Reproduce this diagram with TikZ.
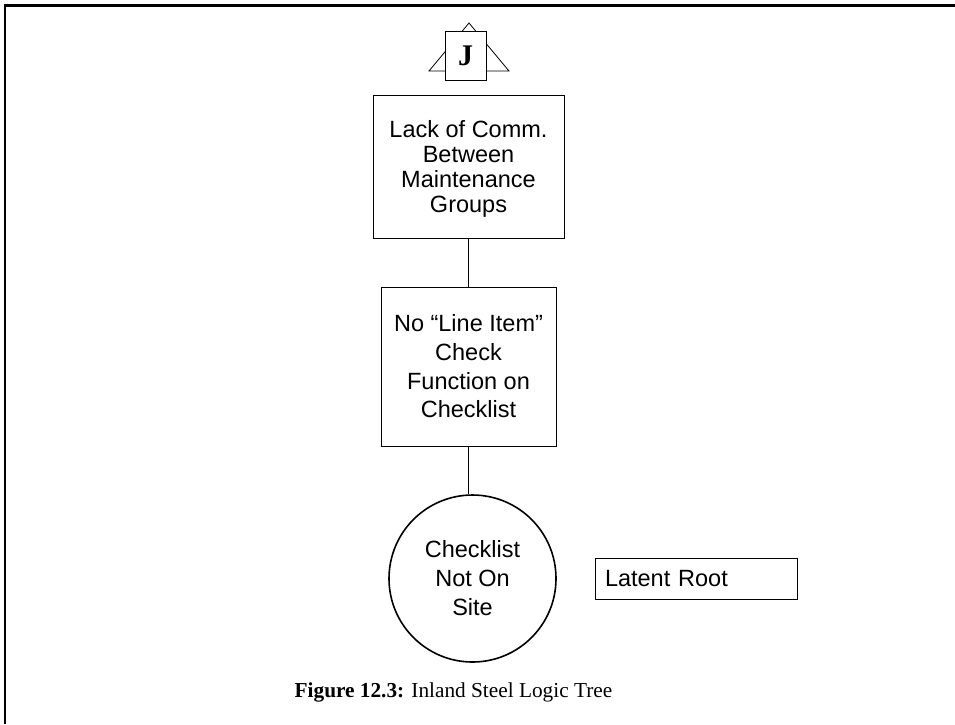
\documentclass[tikz,border=0pt]{standalone}
\usepackage{fontspec}
\setmainfont{Liberation Serif}
\setsansfont{Liberation Sans}
\begin{document}
\begin{tikzpicture}[x=1pt, y=-1pt,
  evbox/.style={draw, line width=0.8pt, align=center, inner sep=0pt,
    font=\sffamily\fontsize{23.5}{25}\selectfont},
  rootcirc/.style={circle, draw, line width=1.6pt, align=center, inner sep=0pt,
    minimum size=167pt, font=\sffamily\fontsize{23.5}{29}\selectfont}]
\useasboundingbox (0,0) rectangle (955,724);
\draw[line width=2.2pt] (5,724) -- (5,5.5) -- (955,5.5);
% transfer symbol
\draw[line width=0.8pt] (469,23) -- (509,71) -- (429,71) -- cycle;
\node[draw, fill=white, line width=0.8pt, minimum width=41pt, minimum height=49pt, font=\bfseries\fontsize{30}{32}\selectfont] (jgate) at (465.5,55.5){J};
\node[evbox, minimum width=191pt, minimum height=143pt, text depth=-2pt] (lackcomm) at (468.5,166.5){Lack of Comm.\\Between\\Maintenance\\Groups};
\node[evbox, minimum width=175pt, minimum height=159pt, font=\sffamily\fontsize{23.5}{28.7}\selectfont] (lineitem) at (468.5,366.5){No “Line Item”\\Check\\Function on\\Checklist};
\node[rootcirc] (notonsite) at (472.5,578.5){Checklist\\Not On\\Site};
\draw[line width=0.8pt](lackcomm) -- (lineitem);
\draw[line width=0.8pt](lineitem) -- (lineitem |- notonsite.north);
\node[evbox, minimum width=202pt, minimum height=41pt, text width=182pt, align=left, inner xsep=10pt] (latent) at (696,578.5){Latent Root};
\node[anchor=base, font=\fontsize{21.3}{24}\selectfont] (caption) at (453.5,697){\textbf{Figure 12.3:} Inland Steel Logic Tree};
\end{tikzpicture}
\end{document}
